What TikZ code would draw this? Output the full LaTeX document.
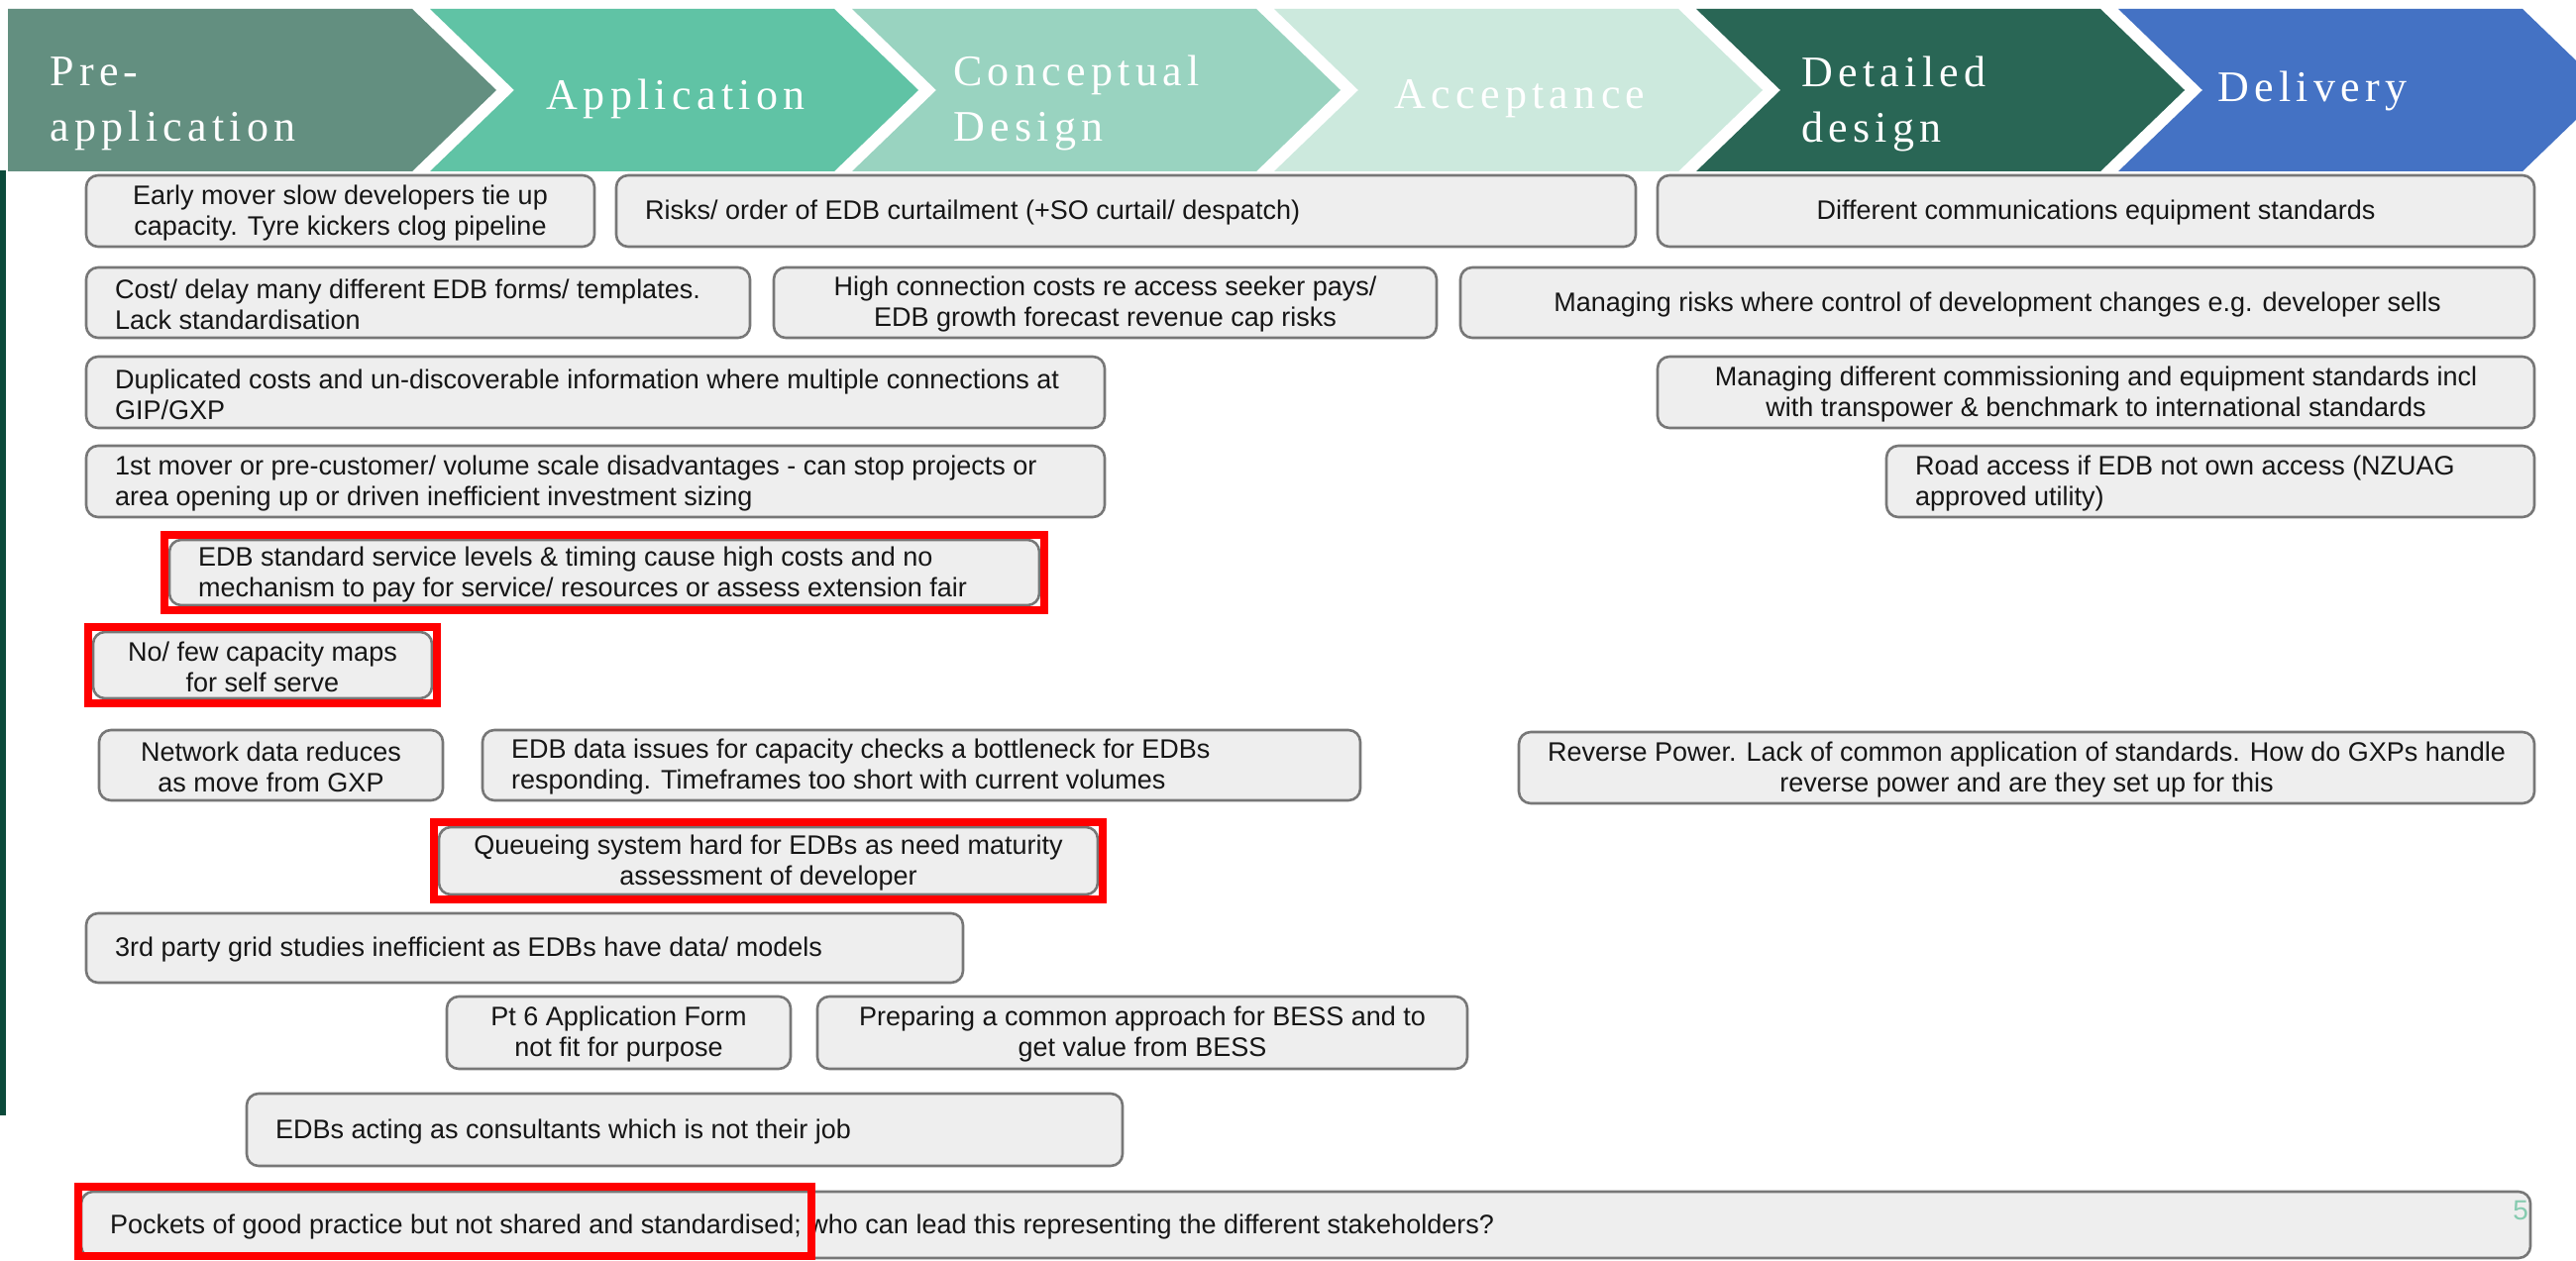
\documentclass[tikz,border=0pt]{standalone}
\usepackage{fontspec}
\setmainfont{Liberation Sans}
\newfontfamily\chevfont[LetterSpace=12]{Liberation Serif}
\usetikzlibrary{fit}
\definecolor{cA}{HTML}{638F80}
\definecolor{cB}{HTML}{60C3A5}
\definecolor{cC}{HTML}{99D3C0}
\definecolor{cD}{HTML}{CCE9DD}
\definecolor{cE}{HTML}{296655}
\definecolor{cF}{HTML}{4472C4}
\definecolor{boxfill}{HTML}{EEEEEE}
\definecolor{boxline}{HTML}{777777}
\definecolor{txtc}{HTML}{161616}
\definecolor{sidebar}{HTML}{0B4A3A}
\definecolor{pgnum}{HTML}{86CBB0}
\newcommand\mkbox[5]{\node[box, minimum width={(#4-#2)*0.5pt}, minimum height={(#5-#3)*0.5pt}] (#1) at ({(#2+#4)/2},{(#3+#5)/2}) {};}
\newcommand\ltext[2]{\node[txt, align=left, anchor=west] (#1t) at ([xshift=15pt,yshift=-1pt]#1.west) {#2};}
\newcommand\ctext[2]{\node[txt, align=center] (#1t) at ([yshift=-1pt]#1.center) {#2};}
\begin{document}
\begin{tikzpicture}[x=0.5pt,y=-0.5pt,
  box/.style={draw=boxline, fill=boxfill, line width=1.3pt, rounded corners=6pt, inner sep=0pt},
  txt/.style={text=txtc, inner sep=0pt, font=\fontsize{13.5}{15.5}\selectfont},
  redbox/.style={draw=red, line width=4pt, inner sep=2pt},
  chevtext/.style={text=white, inner sep=0pt, font=\chevfont\fontsize{22}{28}\selectfont}]
\useasboundingbox (0,0) rectangle (2600,1273);
\clip (0,0) rectangle (2600,1273);
\fill[white] (0,0) rectangle (2600,1273);
% chevrons
\fill[cA] (8,9) -- (416,9) -- (501,91) -- (416,173) -- (8,173) -- cycle;
\fill[cB] (434,9) -- (842,9) -- (927,91) -- (842,173) -- (434,173) -- (519,91) -- cycle;
\fill[cC] (860,9) -- (1268,9) -- (1353,91) -- (1268,173) -- (860,173) -- (945,91) -- cycle;
\fill[cD] (1286,9) -- (1694,9) -- (1779,91) -- (1694,173) -- (1286,173) -- (1371,91) -- cycle;
\fill[cE] (1712,9) -- (2120,9) -- (2205,91) -- (2120,173) -- (1712,173) -- (1797,91) -- cycle;
\fill[cF] (2138,9) -- (2546,9) -- (2631,91) -- (2546,173) -- (2138,173) -- (2223,91) -- cycle;
\node[chevtext, anchor=west, align=left] (t1) at (50,105) {Pre-\\application};
\node[chevtext] (t2) at (682,100) {Application};
\node[chevtext, anchor=west, align=left] (t3) at (962,104) {Conceptual\\Design};
\node[chevtext] (t4) at (1534,100) {Acceptance};
\node[chevtext, anchor=west, align=left] (t5) at (1818,105) {Detailed\\design};
\node[chevtext] (t6) at (2334,92) {Delivery};
% side bar
\fill[sidebar] (0,172) rectangle (6,1126);
% boxes
\mkbox{b1}{87}{177}{600}{249}
\ctext{b1}{Early mover slow developers tie up\\capacity. Tyre kickers clog pipeline}
\mkbox{b2}{622}{177}{1651}{249}
\ltext{b2}{Risks/ order of EDB curtailment (+SO curtail/ despatch)}
\mkbox{b3}{1673}{177}{2558}{249}
\ctext{b3}{Different communications equipment standards}
\mkbox{b4}{87}{270}{757}{341}
\ltext{b4}{Cost/ delay many different EDB forms/ templates.\\Lack standardisation}
\mkbox{b5}{781}{270}{1450}{341}
\ctext{b5}{High connection costs re access seeker pays/\\EDB growth forecast revenue cap risks}
\mkbox{b6}{1474}{270}{2558}{341}
\ctext{b6}{Managing risks where control of development changes e.g. developer sells}
\mkbox{b7}{87}{360}{1115}{432}
\ltext{b7}{Duplicated costs and un-discoverable information where multiple connections at\\GIP/GXP}
\mkbox{b8}{1673}{360}{2558}{432}
\ctext{b8}{Managing different commissioning and equipment standards incl\\with transpower \& benchmark to international standards}
\mkbox{b9}{87}{450}{1115}{522}
\ltext{b9}{1st mover or pre-customer/ volume scale disadvantages - can stop projects or\\area opening up or driven inefficient investment sizing}
\mkbox{b10}{1904}{450}{2558}{522}
\ltext{b10}{Road access if EDB not own access (NZUAG\\approved utility)}
\mkbox{b11}{171}{545}{1049}{611}
\ltext{b11}{EDB standard service levels \& timing cause high costs and no\\mechanism to pay for service/ resources or assess extension fair}
\mkbox{b12}{94}{638}{436}{705}
\ctext{b12}{No/ few capacity maps\\for self serve}
\mkbox{b13}{100}{737}{447}{808}
\ctext{b13}{Network data reduces\\as move from GXP}
\mkbox{b14}{487}{737}{1373}{808}
\ltext{b14}{EDB data issues for capacity checks a bottleneck for EDBs\\responding. Timeframes too short with current volumes}
\mkbox{b15}{443}{835}{1108}{903}
\ctext{b15}{Queueing system hard for EDBs as need maturity\\assessment of developer}
\mkbox{b16}{1533}{739}{2558}{811}
\ctext{b16}{Reverse Power. Lack of common application of standards. How do GXPs handle\\reverse power and are they set up for this}
\mkbox{b17}{87}{922}{972}{992}
\ltext{b17}{3rd party grid studies inefficient as EDBs have data/ models}
\mkbox{b18}{451}{1006}{798}{1079}
\ctext{b18}{Pt 6 Application Form\\not fit for purpose}
\mkbox{b19}{825}{1006}{1481}{1079}
\ctext{b19}{Preparing a common approach for BESS and to\\get value from BESS}
\mkbox{b20}{249}{1104}{1133}{1177}
\ltext{b20}{EDBs acting as consultants which is not their job}
\mkbox{b21}{82}{1203}{2554}{1270}
\ltext{b21}{Pockets of good practice but not shared and standardised; who can lead this representing the different stakeholders?}
\node[text=pgnum, inner sep=0pt, font=\fontsize{14}{14}\selectfont] (pg) at (2544,1222) {5};
% red highlights
\node[redbox, fit=(b11)] (r1) {};
\node[redbox, fit=(b12)] (r2) {};
\node[redbox, fit=(b15)] (r3) {};
\coordinate (r4a) at (79,1198);
\coordinate (r4b) at (819,1268);
\node[redbox, inner sep=0pt, fit=(r4a)(r4b)] (r4) {};
\end{tikzpicture}
\end{document}
